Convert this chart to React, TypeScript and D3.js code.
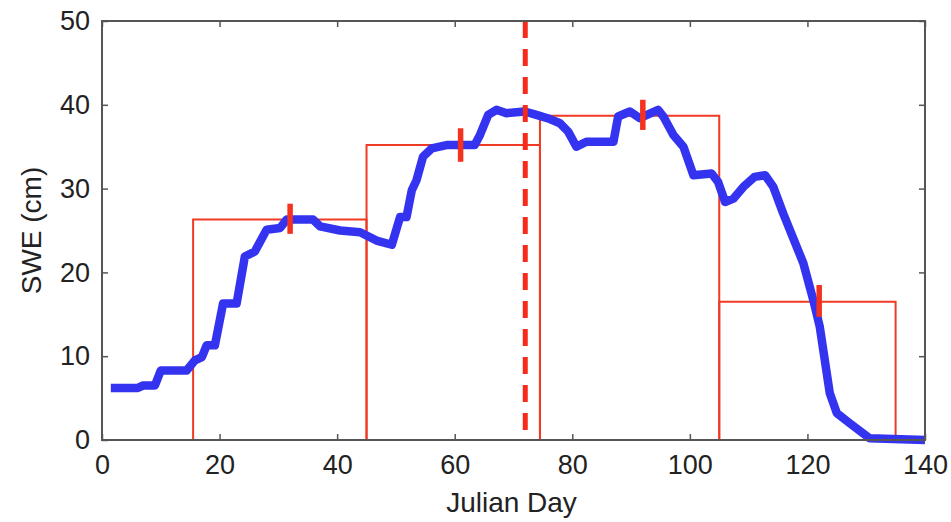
import React, { useRef, useEffect } from 'react';
import * as d3 from 'd3';

// blue SWE trace
const days = [1.5, 6, 7, 9, 10, 14.4, 15.8, 17, 17.8, 19.2, 20.6, 22.9, 24.3, 26, 28, 30.3, 31.4, 35.9, 37.1, 40.5, 43.9, 46.7, 49.3, 50.7, 51.8, 52.7, 53.5, 54.6, 56.1, 58.6, 63.4, 64.3, 65.7, 67.1, 68.8, 71.9, 73.9, 76.2, 77.9, 79.3, 80.7, 82.4, 87, 87.8, 89.8, 91.5, 94.6, 95.5, 97.2, 98.9, 100.6, 103.7, 104.8, 106, 107.4, 109.1, 111, 112.8, 114.2, 115.9, 119.3, 121, 122.1, 123.8, 125, 127.2, 130.6, 140];
const swe = [6.2, 6.2, 6.5, 6.5, 8.3, 8.3, 9.5, 9.9, 11.3, 11.3, 16.3, 16.3, 21.9, 22.5, 25.1, 25.3, 26.3, 26.3, 25.5, 25.0, 24.8, 23.8, 23.3, 26.6, 26.6, 29.8, 31, 33.8, 34.8, 35.2, 35.2, 36.4, 38.8, 39.4, 39.0, 39.2, 38.8, 38.3, 37.8, 36.8, 35.0, 35.6, 35.6, 38.6, 39.2, 38.4, 39.4, 38.6, 36.4, 35.0, 31.6, 31.8, 30.8, 28.4, 28.8, 30.2, 31.4, 31.6, 30.2, 27.0, 21.1, 16.7, 13.5, 5.6, 3.2, 2.0, 0.2, 0];

// red period bars
const binStart = [15.5, 45, 74.5, 105];
const binEnd = [45, 74.5, 105, 135];
const binValue = [26.3, 35.2, 38.7, 16.5];
const errDay = [32, 61, 92, 122];
const errLow = [24.6, 33.2, 37.0, 14.7];
const errHigh = [28.2, 37.2, 40.6, 18.5];

const markerDay = 72;

const xTicks = [0, 20, 40, 60, 80, 100, 120, 140];
const yTicks = [0, 10, 20, 30, 40, 50];

const W = 951;
const H = 522;
const margin = { left: 102, right: 26, top: 21, bottom: 82 };
const FONT = '"Liberation Sans", Arial, Helvetica, sans-serif';

export default function App() {
  const svgRef = useRef<SVGSVGElement>(null);

  useEffect(() => {
    const svg = d3.select(svgRef.current);
    svg.selectAll('*').remove();

    const x = d3.scaleLinear().domain([0, 140]).range([margin.left, W - margin.right]);
    const y = d3.scaleLinear().domain([0, 50]).range([H - margin.bottom, margin.top]);

    const red = '#f03a24';

    // bins
    const bins = binStart.map((s, i) => ({ s, e: binEnd[i], v: binValue[i] }));
    svg
      .append('g')
      .selectAll('path')
      .data(bins)
      .join('path')
      .attr('d', (d) => `M${x(d.s)},${y(0)}V${y(d.v)}H${x(d.e)}V${y(0)}`)
      .attr('fill', 'none')
      .attr('stroke', red)
      .attr('stroke-width', 2);

    // blue trace
    const pts = days.map((d, i) => [d, swe[i]] as [number, number]);
    const line = d3
      .line<[number, number]>()
      .x((d) => x(d[0]))
      .y((d) => y(d[1]));
    svg
      .append('path')
      .attr('d', line(pts))
      .attr('fill', 'none')
      .attr('stroke', '#3434f0')
      .attr('stroke-width', 8.5)
      .attr('stroke-linejoin', 'round')
      .attr('stroke-linecap', 'butt');

    // error marks
    svg
      .append('g')
      .selectAll('line')
      .data(errDay)
      .join('line')
      .attr('x1', (d) => x(d))
      .attr('x2', (d) => x(d))
      .attr('y1', (d, i) => y(errLow[i]))
      .attr('y2', (d, i) => y(errHigh[i]))
      .attr('stroke', '#f5321e')
      .attr('stroke-width', 5.5);

    // dashed marker
    svg
      .append('line')
      .attr('x1', x(markerDay))
      .attr('x2', x(markerDay))
      .attr('y1', y(50))
      .attr('y2', y(0))
      .attr('stroke', '#f52a1a')
      .attr('stroke-width', 5)
      .attr('stroke-dasharray', '17 11');

    // axes
    const axisColor = '#555';
    const styleAxis = (g) => {
      g.select('.domain').remove();
      g.selectAll('line').attr('stroke', axisColor).attr('stroke-width', 1.5);
      g.selectAll('text')
        .attr('fill', '#222')
        .style('font-family', FONT)
        .style('font-size', '27px');
    };

    svg
      .append('g')
      .attr('transform', `translate(0,${y(0)})`)
      .call(d3.axisBottom(x).tickValues(xTicks).tickSize(-6).tickPadding(15).tickFormat(d3.format('d')))
      .call(styleAxis);
    svg
      .append('g')
      .attr('transform', `translate(0,${y(50)})`)
      .call(d3.axisTop(x).tickValues(xTicks).tickSize(-6).tickFormat(() => ''))
      .call(styleAxis);
    svg
      .append('g')
      .attr('transform', `translate(${x(0)},0)`)
      .call(d3.axisLeft(y).tickValues(yTicks).tickSize(-6).tickPadding(12).tickFormat(d3.format('d')))
      .call(styleAxis);
    svg
      .append('g')
      .attr('transform', `translate(${x(140)},0)`)
      .call(d3.axisRight(y).tickValues(yTicks).tickSize(-6).tickFormat(() => ''))
      .call(styleAxis);

    svg
      .append('rect')
      .attr('x', x(0))
      .attr('y', y(50))
      .attr('width', x(140) - x(0))
      .attr('height', y(0) - y(50))
      .attr('fill', 'none')
      .attr('stroke', axisColor)
      .attr('stroke-width', 2);

    svg
      .append('text')
      .attr('x', (x(0) + x(140)) / 2 - 2)
      .attr('y', 512)
      .attr('text-anchor', 'middle')
      .attr('fill', '#222')
      .style('font-family', FONT)
      .style('font-size', '28px')
      .text('Julian Day');

    svg
      .append('text')
      .attr('transform', `translate(41,${(y(0) + y(50)) / 2}) rotate(-90)`)
      .attr('text-anchor', 'middle')
      .attr('fill', '#222')
      .style('font-family', FONT)
      .style('font-size', '28px')
      .text('SWE (cm)');
  }, []);

  return (
    <svg
      ref={svgRef}
      width={W}
      height={H}
      style={{ position: 'absolute', left: 0, top: 0, background: '#fff' }}
    />
  );
}
